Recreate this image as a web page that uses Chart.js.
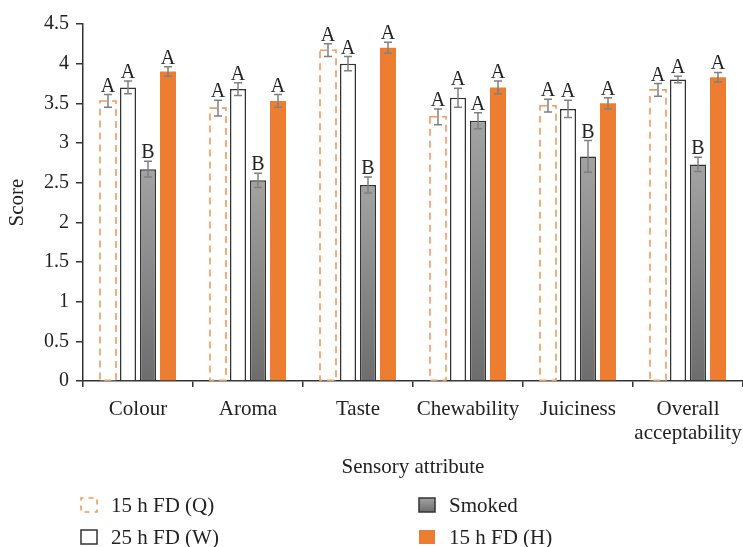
<!DOCTYPE html>
<html>
<head>
<meta charset="utf-8">
<script src="https://cdn.jsdelivr.net/npm/chart.js@4.4.1/dist/chart.umd.min.js"></script>
<style>
  html, body { margin: 0; padding: 0; background: #fff; }
  #wrap { width: 743px; height: 547px; position: relative; }
</style>
</head>
<body>
<div id="wrap"><canvas id="chart"></canvas></div>
<script>
// data
var categories = ['Colour', 'Aroma', 'Taste', 'Chewability', 'Juiciness', ['Overall', 'acceptability']];
var seriesNames = ['15 h FD (Q)', '25 h FD (W)', 'Smoked', '15 h FD (H)'];

var valuesQ = [3.53, 3.44, 4.17, 3.33, 3.47, 3.67];
var valuesW = [3.70, 3.68, 4.00, 3.57, 3.43, 3.80];
var valuesSmoked = [2.67, 2.53, 2.47, 3.28, 2.83, 2.73];
var valuesH = [3.90, 3.53, 4.20, 3.70, 3.50, 3.83];

var errQ = [0.08, 0.10, 0.08, 0.10, 0.08, 0.08];
var errW = [0.08, 0.08, 0.09, 0.12, 0.11, 0.04];
var errSmoked = [0.10, 0.09, 0.10, 0.10, 0.20, 0.09];
var errH = [0.06, 0.08, 0.07, 0.08, 0.07, 0.06];

var lettersQ = ['A', 'A', 'A', 'A', 'A', 'A'];
var lettersW = ['A', 'A', 'A', 'A', 'A', 'A'];
var lettersSmoked = ['B', 'B', 'B', 'A', 'B', 'B'];
var lettersH = ['A', 'A', 'A', 'A', 'A', 'A'];

var yMin = 0, yMax = 4.5, yStep = 0.5;

var FONT = "'Liberation Serif', 'Times New Roman', serif";
var ORANGE = '#ED7D31';
var ORANGE_DASH = '#F29A5C';
var DARK = '#333333';
var ERR = '#808080';

function smokedGradient(c, top, base) {
    var g = c.createLinearGradient(0, top, 0, base);
    g.addColorStop(0, '#a3a3a3');
    g.addColorStop(1, '#6d6d6d');
    return g;
}

function smokedFill(context) {
    var chart = context.chart;
    if (!chart.chartArea || context.type !== 'data') return '#8a8a8a';
    var y = chart.scales.y;
    return smokedGradient(chart.ctx, y.getPixelForValue(context.raw), y.getPixelForValue(0));
}

var errors = [errQ, errW, errSmoked, errH];
var letters = [lettersQ, lettersW, lettersSmoked, lettersH];

// dashed outline for Q, error bars and letters
var extrasPlugin = {
    id: 'extras',
    afterDatasetsDraw: function (chart) {
        var c = chart.ctx, y = chart.scales.y;
        c.save();
        // dashed Q bars
        var metaQ = chart.getDatasetMeta(0);
        c.strokeStyle = ORANGE_DASH;
        c.lineWidth = 1.6;
        c.setLineDash([7, 5]);
        metaQ.data.forEach(function (bar) {
            var w = bar.width;
            c.strokeRect(bar.x - w / 2, bar.y, w, bar.base - bar.y);
        });
        c.setLineDash([]);
        // error bars
        chart.data.datasets.forEach(function (ds, di) {
            var meta = chart.getDatasetMeta(di);
            meta.data.forEach(function (bar, i) {
                var v = ds.data[i], e = errors[di][i];
                var yt = y.getPixelForValue(v + e), yb = y.getPixelForValue(v - e);
                c.strokeStyle = ERR;
                c.lineWidth = 1.5;
                c.beginPath();
                c.moveTo(bar.x, yt); c.lineTo(bar.x, yb);
                c.moveTo(bar.x - 4, yt); c.lineTo(bar.x + 4, yt);
                c.moveTo(bar.x - 4, yb); c.lineTo(bar.x + 4, yb);
                c.stroke();
                c.fillStyle = '#222';
                c.font = '20px ' + FONT;
                c.textAlign = 'center';
                c.textBaseline = 'alphabetic';
                c.fillText(letters[di][i], bar.x, yt - 3);
            });
        });
        c.restore();
    },
    afterDraw: function (chart) {
        // legend, two columns
        var c = chart.ctx;
        var items = [
            { x: 81, y: 505, kind: 'q' },
            { x: 81, y: 537, kind: 'w' },
            { x: 419, y: 505, kind: 's' },
            { x: 419, y: 537, kind: 'h' }
        ];
        c.save();
        items.forEach(function (it, k) {
            var bx = it.x, by = it.y - 7, bw = 16, bh = 14;
            if (it.kind === 'q') {
                c.strokeStyle = ORANGE_DASH; c.lineWidth = 1.6;
                c.setLineDash([5, 5]); c.lineDashOffset = 2.5;
                c.strokeRect(bx, by, bw, bh);
                c.setLineDash([]);
            } else if (it.kind === 'w') {
                c.fillStyle = '#fff'; c.fillRect(bx, by, bw, bh);
                c.strokeStyle = DARK; c.lineWidth = 1.5; c.strokeRect(bx, by, bw, bh);
            } else if (it.kind === 's') {
                c.fillStyle = smokedGradient(c, by, by + bh); c.fillRect(bx, by, bw, bh);
                c.strokeStyle = DARK; c.lineWidth = 1.5; c.strokeRect(bx, by, bw, bh);
            } else {
                c.fillStyle = ORANGE; c.fillRect(bx, by, bw, bh);
            }
            c.fillStyle = '#222';
            c.font = '21px ' + FONT;
            c.textAlign = 'left';
            c.textBaseline = 'middle';
            c.fillText(seriesNames[k], bx + 30, it.y + 1);
        });
        c.restore();
    }
};

new Chart(document.getElementById('chart').getContext('2d'), {
    type: 'bar',
    data: {
        labels: categories,
        datasets: [
            { label: seriesNames[0], data: valuesQ, backgroundColor: '#ffffff', borderWidth: 0 },
            { label: seriesNames[1], data: valuesW, backgroundColor: '#ffffff', borderColor: DARK, borderWidth: 1.5 },
            { label: seriesNames[2], data: valuesSmoked, backgroundColor: smokedFill, borderColor: DARK, borderWidth: 1.5 },
            { label: seriesNames[3], data: valuesH, backgroundColor: ORANGE, borderWidth: 0 }
        ]
    },
    options: {
        responsive: true,
        maintainAspectRatio: false,
        animation: false,
        categoryPercentage: 0.7273,
        barPercentage: 0.8,
        layout: { padding: { top: 24, right: 0, bottom: 66, left: 0 } },
        plugins: {
            legend: { display: false },
            tooltip: { enabled: false }
        },
        scales: {
            x: {
                grid: { drawOnChartArea: false, tickLength: 6, color: DARK, lineWidth: 1.5 },
                border: { color: DARK, width: 1.5 },
                ticks: { color: '#222', padding: 10, autoSkip: false, font: { family: FONT, size: 21, lineHeight: 1.15 }, maxRotation: 0 },
                title: { display: true, text: 'Sensory attribute', color: '#222', font: { family: FONT, size: 21 }, padding: { top: 0, bottom: 0.5 } },
                afterFit: function (s) { s.height = 100; s.paddingLeft = 0; s.paddingRight = 0; }
            },
            y: {
                min: yMin, max: yMax,
                grid: { drawOnChartArea: false, tickLength: 7, color: DARK, lineWidth: 1.5 },
                border: { color: DARK, width: 1.5 },
                ticks: {
                    stepSize: yStep, color: '#222', padding: 7, font: { family: FONT, size: 20 },
                    callback: function (v) { return String(v); }
                },
                title: { display: true, text: 'Score', color: '#222', font: { family: FONT, size: 21 }, padding: { top: 5, bottom: 0 } },
                afterFit: function (s) { s.width = 83; s.paddingTop = 0; s.paddingBottom = 0; }
            }
        }
    },
    plugins: [extrasPlugin]
});
</script>
</body>
</html>
